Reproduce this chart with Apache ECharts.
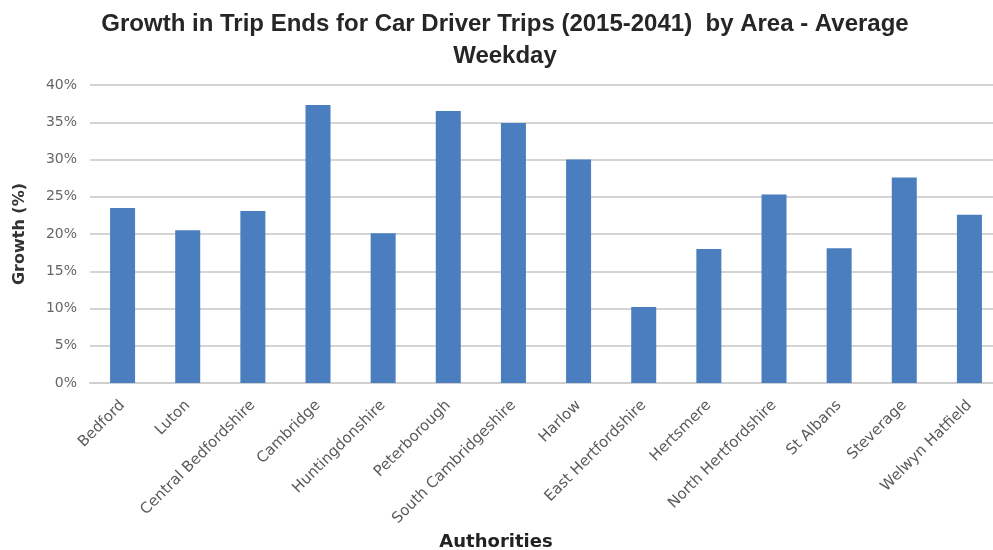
<!DOCTYPE html>
<html>
<head>
<meta charset="utf-8">
<script src="https://cdn.jsdelivr.net/npm/echarts@6/dist/echarts.min.js"></script>
<style>
  html, body { margin: 0; padding: 0; background: #ffffff; overflow: hidden; }
  #chart { width: 1010px; height: 550px; }
</style>
</head>
<body>
<div id="chart"></div>
<script>
// Local authorities along the x axis
const authorities = [
  'Bedford', 'Luton', 'Central Bedfordshire', 'Cambridge', 'Huntingdonshire',
  'Peterborough', 'South Cambridgeshire', 'Harlow', 'East Hertfordshire',
  'Hertsmere', 'North Hertfordshire', 'St Albans', 'Steverage', 'Welwyn Hatfield'
];
// Growth in car driver trip ends, 2015-2041, in percent
const growthPct = [23.5, 20.5, 23.1, 37.3, 20.1, 36.5, 34.9, 30.0, 10.2, 18.0, 25.3, 18.1, 27.6, 22.6];
// Y axis range and step (percent)
const yMin = 0, yMax = 40, yStep = 5;

const labelFont = 'DejaVu Sans, Verdana, sans-serif';

const chart = echarts.init(document.getElementById('chart'));
chart.setOption({
  animation: false,
  title: {
    text: 'Growth in Trip Ends for Car Driver Trips (2015-2041)  by Area - Average\nWeekday',
    left: 'center',
    top: 3,
    textStyle: {
      fontFamily: 'Liberation Sans, Arial, sans-serif',
      fontWeight: 'bold',
      fontSize: 24,
      lineHeight: 32,
      color: '#262626'
    }
  },
  grid: {
    left: 90, top: 85, width: 912, height: 298,
    containLabel: false, outerBoundsMode: 'none'
  },
  xAxis: {
    type: 'category',
    data: authorities,
    name: 'Authorities',
    nameLocation: 'middle',
    nameGap: 144,
    nameTextStyle: {
      fontFamily: labelFont,
      fontWeight: 'bold', fontSize: 18, color: '#222222',
      padding: [0, 100, 0, 0]
    },
    axisLine: { lineStyle: { color: '#cfcfcf', width: 2 } },
    axisTick: { show: false },
    axisLabel: {
      rotate: 45, interval: 0, margin: 20,
      fontFamily: labelFont,
      fontSize: 15, color: '#5a5a5a'
    }
  },
  yAxis: {
    type: 'value',
    min: yMin, max: yMax, interval: yStep,
    name: 'Growth (%)',
    nameLocation: 'middle',
    nameGap: 62,
    nameTextStyle: {
      fontFamily: labelFont,
      fontWeight: 'bold', fontSize: 16, color: '#333333'
    },
    axisLine: { show: false },
    axisTick: { show: false },
    axisLabel: {
      formatter: '{value}%', margin: 13,
      fontFamily: labelFont,
      fontSize: 14, color: '#666666'
    },
    splitLine: { lineStyle: { color: '#d4d4d4', width: 2 } }
  },
  series: [{
    type: 'bar',
    data: growthPct,
    barWidth: 25,
    itemStyle: { color: '#4a7ebf' }
  }]
});
</script>
</body>
</html>
